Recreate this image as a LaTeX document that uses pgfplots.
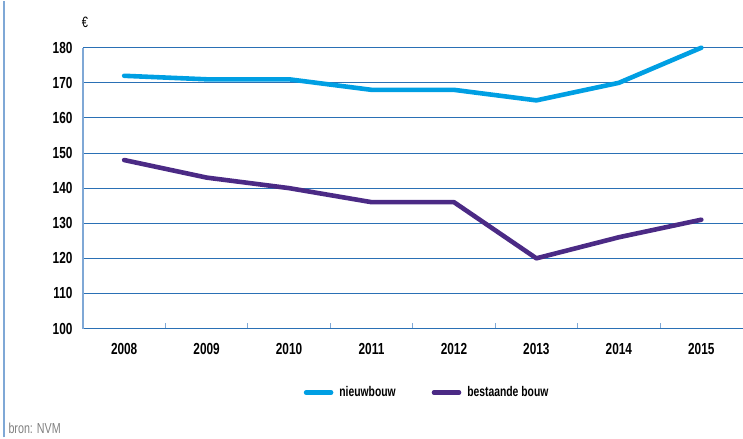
\documentclass[border=0pt]{standalone}
\usepackage{pgfplots}
\pgfplotsset{compat=1.18}
\usepackage{fontspec}
\setmainfont{Liberation Sans}[FakeStretch=0.74]
\definecolor{nieuw}{HTML}{009FE3}
\definecolor{bestaand}{HTML}{4B2A85}
\definecolor{gridblue}{HTML}{2A70B5}
\definecolor{lightblue}{HTML}{7FA8D6}
\begin{document}
\begin{tikzpicture}[x=1pt,y=1pt]
\path (0,0) rectangle (743,437);
\draw[lightblue, line width=1.5pt] (4,0) -- (4,437);
\node[anchor=west, text=gray, font=\fontsize{14.5}{16}\selectfont] at (5,9) {bron: NVM};
\begin{axis}[
  at={(83pt,109pt)}, anchor=south west,
  scale only axis, width=660pt, height=281pt,
  xmin=-0.5, xmax=7.5, ymin=100, ymax=180,
  axis x line=bottom, axis y line=left,
  x axis line style={gridblue, line width=1pt, -},
  y axis line style={lightblue, line width=1.5pt, -},
  xtick={0,...,7},
  xticklabels={2008,2009,2010,2011,2012,2013,2014,2015},
  minor xtick={0.5,1.5,...,6.5},
  major tick length=0pt,
  minor tick length=6pt,
  xtick align=inside,
  minor tick style={lightblue, line width=1pt},
  ytick={100,110,...,180},
  ymajorgrids,
  grid style={gridblue, line width=0.9pt},
  minor x grid style={draw=none},
  tick label style={font=\bfseries\fontsize{16}{18}\selectfont},
  /pgf/number format/assume math mode=true,
  yticklabel style={xshift=-7pt},
  xticklabel style={yshift=-11pt},
  legend style={draw=none, fill=none, font=\bfseries\fontsize{14}{16}\selectfont,
    at={(axis description cs:0.33,-0.228)}, anchor=west,
    legend columns=2,
    /tikz/every even column/.append style={column sep=34pt}},
  legend cell align=left,
  legend image code/.code={\draw[#1, line cap=round] (0pt,0pt) -- (25pt,0pt);},
  clip=false,
]
\addplot[nieuw, line width=4.6pt, line join=round, line cap=round] coordinates {
(0,172) (1,171) (2,171) (3,168) (4,168) (5,165) (6,170) (7,180)};
\addlegendentry{\hspace{4pt}nieuwbouw}
\addplot[bestaand, line width=4.6pt, line join=round, line cap=round] coordinates {
(0,148) (1,143) (2,140) (3,136) (4,136) (5,120) (6,126) (7,131)};
\addlegendentry{\hspace{4pt}bestaande bouw}
\node[font=\fontsize{15}{17}\selectfont] at (axis description cs:0.003,1.09) {€};
\end{axis}
\end{tikzpicture}
\end{document}
